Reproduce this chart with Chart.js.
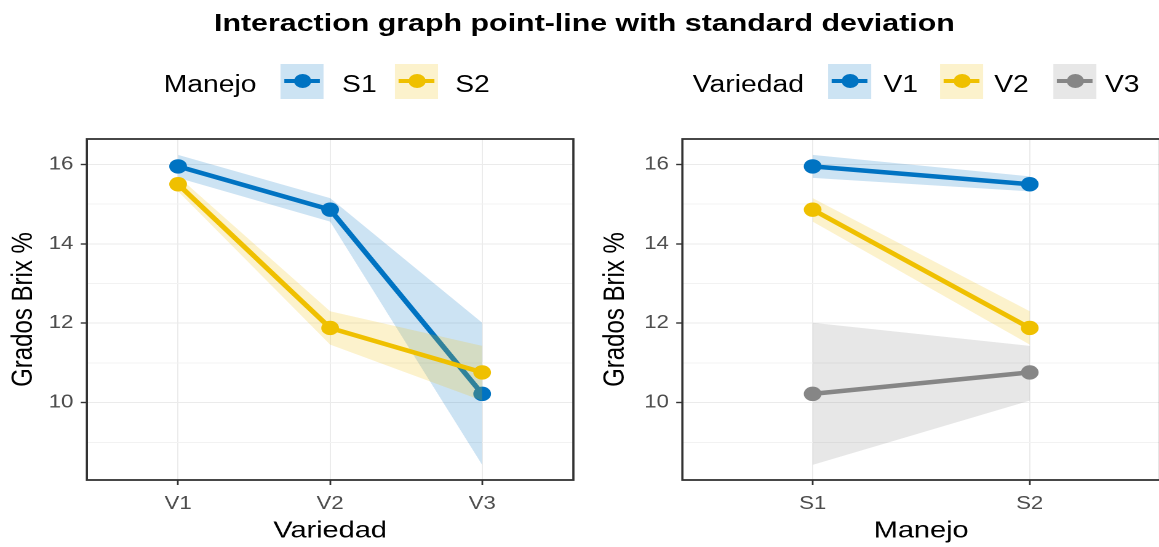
<!DOCTYPE html>
<html>
<head>
<meta charset="utf-8">
<script src="https://cdn.jsdelivr.net/npm/chart.js@4.4.1/dist/chart.umd.min.js"></script>
<style>
  html, body { margin: 0; padding: 0; background: #fff; overflow: hidden; }
  #stage {
    position: absolute; left: 0; top: 0; width: 942px; height: 547px;
    transform: scaleX(1.2304); transform-origin: 0 0; overflow: hidden;
    font-family: "Liberation Sans", Arial, sans-serif; color: #000;
  }
  #title { position: absolute; left: 4px; width: 942px; top: 10px; line-height: 25px;
    text-align: center; font-weight: bold; font-size: 24.7px; white-space: nowrap; }
  .ltxt { position: absolute; top: 73px; font-size: 23px; line-height: 23px; white-space: nowrap; }
  .key { position: absolute; top: 64px; width: 35px; height: 35px; }
  .key .ln { position: absolute; left: 3px; right: 3px; top: 14.5px; height: 4px; }
  .key .pt { position: absolute; left: 10.5px; top: 9.5px; width: 14px; height: 14px; border-radius: 50%; }
  .panel { position: absolute; top: 0; height: 547px; }
</style>
</head>
<body>
<div id="stage">
  <div id="title">Interaction graph point-line with standard deviation</div>
  <div id="legends"></div>
  <div class="panel" style="left:0;width:480px"><canvas id="chartVar"></canvas></div>
  <div class="panel" style="left:480px;width:470px"><canvas id="chartMan"></canvas></div>
</div>
<script>
const variedades = ["V1", "V2", "V3"];
const manejos = ["S1", "S2"];

// medias de grados brix (una lista por manejo, en orden de variedad)
const mediaS1 = [15.95, 14.86, 10.22];
const mediaS2 = [15.50, 11.88, 10.76];
// media - sd y media + sd
const inferiorS1 = [15.66, 14.56, 8.43];
const superiorS1 = [16.24, 15.15, 12.01];
const inferiorS2 = [15.32, 11.46, 10.05];
const superiorS2 = [15.70, 12.30, 11.43];

const yTickLabels = [10, 12, 14, 16];
const yMinorTicks = [9, 11, 13, 15];

const colores = ["#0073C2", "#EFC000", "#868686"];
const rellenos = ["rgba(0,115,194,0.2)", "rgba(239,192,0,0.2)", "rgba(134,134,134,0.2)"];

const medias = [mediaS1, mediaS2];
const inferiores = [inferiorS1, inferiorS2];
const superiores = [superiorS1, superiorS2];
// misma tabla vista por variedad
const trasponer = (m) => variedades.map((v, i) => m.map((fila) => fila[i]));

// leyendas (html)
function leyenda(titulo, xTitulo, grupos, items) {
  const cont = document.getElementById("legends");
  let html = `<div class="ltxt" style="left:${xTitulo}px">${titulo}</div>`;
  grupos.forEach((g, i) => {
    html += `<div class="key" style="left:${items[i][0]}px;background:${rellenos[i]}">
      <div class="ln" style="background:${colores[i]}"></div>
      <div class="pt" style="background:${colores[i]}"></div></div>
      <div class="ltxt" style="left:${items[i][1]}px">${g}</div>`;
  });
  cont.innerHTML += html;
}
leyenda("Manejo", 133, manejos, [[228, 278], [321, 370]]);
leyenda("Variedad", 563, variedades, [[673, 718], [764, 808], [856, 898]]);

const marco = {
  id: "marco",
  afterDatasetsDraw(chart) {
    const { ctx, chartArea: a } = chart;
    ctx.save();
    ctx.strokeStyle = "#333333";
    ctx.lineWidth = 1.8;
    ctx.strokeRect(a.left, a.top, a.right - a.left, a.bottom - a.top);
    ctx.restore();
  },
};

function grafico(id, cats, grupos, med, inf, sup, xTitulo, anchoEje, padDer, padTitulo) {
  const datasets = [];
  grupos.forEach((g, gi) => {
    const base = datasets.length;
    const ord = 100 - gi * 10;
    datasets.push({
      label: g + " inf",
      data: cats.map((c, i) => ({ x: i, y: inf[gi][i] })),
      borderWidth: 0, pointRadius: 0, fill: false, order: ord,
    });
    datasets.push({
      label: g + " sup",
      data: cats.map((c, i) => ({ x: i, y: sup[gi][i] })),
      borderWidth: 0, pointRadius: 0, fill: base, backgroundColor: rellenos[gi], order: ord - 1,
    });
    datasets.push({
      label: g,
      data: cats.map((c, i) => ({ x: i, y: med[gi][i] })),
      borderColor: colores[gi], backgroundColor: colores[gi],
      borderWidth: 4.5, pointRadius: 7.2, pointHoverRadius: 7.2, pointBorderWidth: 0,
      fill: false, order: ord - 2,
    });
  });

  return new Chart(document.getElementById(id), {
    type: "line",
    data: { datasets },
    plugins: [marco],
    options: {
      responsive: true,
      maintainAspectRatio: false,
      devicePixelRatio: 2,
      animation: false,
      layout: { padding: { top: 139, right: padDer, left: 0, bottom: 0 } },
      plugins: { legend: { display: false }, tooltip: { enabled: false } },
      scales: {
        x: {
          type: "linear",
          min: -0.6,
          max: cats.length - 1 + 0.6,
          afterBuildTicks: (s) => { s.ticks = cats.map((c, i) => ({ value: i })); },
          afterFit: (s) => { s.height = 67; },
          border: { display: false },
          grid: { color: "#EBEBEB", lineWidth: 1, tickLength: 5, tickColor: "#333333", tickWidth: 1.4 },
          ticks: {
            autoSkip: false, maxRotation: 0, padding: 8, color: "#4D4D4D",
            font: { family: "Liberation Sans", size: 18 },
            callback: (v) => cats[v],
          },
          title: {
            display: true, text: xTitulo, color: "#000",
            font: { family: "Liberation Sans", size: 23.5 },
            padding: { top: 0, bottom: 2 },
          },
        },
        y: {
          min: 8.05,
          max: 16.64,
          afterBuildTicks: (s) => {
            s.ticks = yTickLabels.concat(yMinorTicks).sort((a, b) => a - b).map((v) => ({ value: v }));
          },
          afterFit: (s) => { s.width = anchoEje; },
          border: { display: false },
          grid: {
            color: (c) => (yTickLabels.includes(c.tick.value) ? "#EBEBEB" : "#F2F2F2"),
            lineWidth: 1,
            tickLength: 5,
            tickColor: (c) => (yTickLabels.includes(c.tick.value) ? "#333333" : "rgba(0,0,0,0)"),
            tickWidth: 1.4,
          },
          ticks: {
            padding: 6, color: "#4D4D4D",
            font: { family: "Liberation Sans", size: 18 },
            callback: (v) => (yTickLabels.includes(v) ? String(v) : ""),
          },
          title: {
            display: true, text: "Grados Brix %", color: "#000",
            font: { family: "Liberation Sans", size: 24 },
            padding: { top: padTitulo, bottom: 0 },
          },
        },
      },
    },
  });
}

grafico("chartVar", variedades, manejos, medias, inferiores, superiores, "Variedad", 70.6, 14, 5);
grafico("chartMan", manejos, variedades, trasponer(medias), trasponer(inferiores), trasponer(superiores), "Manejo", 74.6, 5.4, 6);
</script>
</body>
</html>
